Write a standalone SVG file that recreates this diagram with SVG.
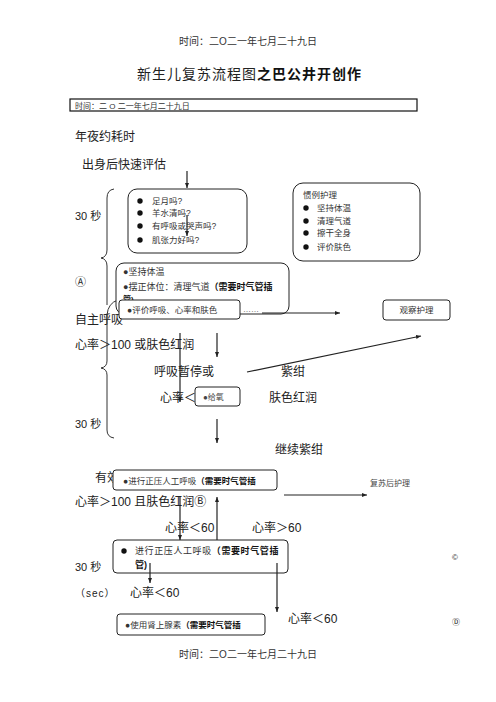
<svg xmlns="http://www.w3.org/2000/svg" width="496" height="702" viewBox="0 0 496 702">
<style>
text{font-family:"Liberation Sans","Noto Sans CJK SC",sans-serif;fill:#222}
.hd{font-size:10px;fill:#333}
.lb{font-size:12px}
.bx{font-size:8.5px;fill:#333}
.sm{font-size:8px;fill:#444}
.b{font-weight:bold;fill:#111}
.box{fill:#fff;stroke:#222;stroke-width:1}
.ln{fill:none;stroke:#222;stroke-width:1.2}
.br{fill:none;stroke:#333;stroke-width:1}
</style>
<defs>
<marker id="ah" viewBox="0 0 10 10" refX="10" refY="5" markerWidth="5" markerHeight="5" orient="auto" markerUnits="userSpaceOnUse">
<path d="M0,1 L10,5 L0,9 Z" fill="#222"/>
</marker>
</defs>
<rect width="496" height="702" fill="#fff"/>

<g id="header">
<text class="hd" x="248" y="45" text-anchor="middle">时间：二O二一年七月二十九日</text>
<text x="137" y="79" style="font-size:14px;letter-spacing:1px">新生儿复苏流程图<tspan class="b">之巴公井开创作</tspan></text>
<rect x="70" y="99" width="347" height="12" fill="none" stroke="#111" stroke-width="1.2"/>
<text x="75" y="108.5" style="font-size:8px;fill:#333">时间：二 O 二一年七月二十九日</text>
</g>

<g id="labels">
<text class="lb" x="75" y="141">年夜约耗时</text>
<text class="lb" x="82" y="169">出身后快速评估</text>
<text class="lb" x="75" y="220" style="font-size:11px">30 秒</text>
<text class="lb" x="75" y="286" style="font-size:11px">Ⓐ</text>
<text class="lb" x="75" y="324">自主呼吸</text>
<text class="lb" x="75" y="349">心率＞100 或肤色红润</text>
<text class="lb" x="154" y="376">呼吸暂停或</text>
<text class="lb" x="281" y="376">紫绀</text>
<text class="lb" x="160" y="402">心率＜</text>
<text class="lb" x="269" y="402">肤色红润</text>
<text class="lb" x="75" y="428" style="font-size:11px">30 秒</text>
<text class="lb" x="275" y="454">继续紫绀</text>
<text class="lb" x="95" y="482">有效</text>
<text class="sm" x="370" y="486">复苏后护理</text>
<text class="lb" x="75" y="506">心率＞100 且肤色红润Ⓑ</text>
<text class="lb" x="165" y="532">心率＜60</text>
<text class="lb" x="252" y="532">心率＞60</text>
<text class="lb" x="75" y="571" style="font-size:11px">30 秒</text>
<text x="452" y="560" style="font-size:8px">©</text>
<text x="75" y="597" style="font-size:10px;letter-spacing:1px">（sec）</text>
<text class="lb" x="130" y="597">心率＜60</text>
<text class="lb" x="288" y="623">心率＜60</text>
<text x="452" y="625" style="font-size:8px">Ⓓ</text>
</g>

<g id="braces">
<path class="br" d="M114,189 Q107,190 107,198 L107,250 Q107,257 101,258 Q107,259 107,266 L107,305"/>
<path class="br" d="M118,300 Q108,303 107,315 L107,361 Q107,367 101,368 Q107,369 107,375 L107,430 Q107,437 114,438"/>
</g>

<g id="node-assess">
<rect class="box" x="128" y="189" width="119" height="64" rx="9"/>
<circle cx="140" cy="201" r="2.7" fill="#111"/>
<circle cx="140" cy="213" r="2.7" fill="#111"/>
<circle cx="140" cy="226" r="2.7" fill="#111"/>
<circle cx="140" cy="240" r="2.7" fill="#111"/>
<text class="bx" x="152" y="204">足月吗?</text>
<text class="bx" x="152" y="216">羊水清吗?</text>
<text class="bx" x="152" y="229">有呼吸或哭声吗?</text>
<text class="bx" x="152" y="243">肌张力好吗?</text>
</g>

<g id="node-routine">
<rect class="box" x="293" y="183" width="127" height="78" rx="10"/>
<text class="bx" x="303" y="198">惯例护理</text>
<circle cx="306" cy="208" r="2.7" fill="#111"/>
<circle cx="306" cy="221" r="2.7" fill="#111"/>
<circle cx="306" cy="233" r="2.7" fill="#111"/>
<circle cx="306" cy="247" r="2.7" fill="#111"/>
<text class="bx" x="317" y="211">坚持体温</text>
<text class="bx" x="317" y="224">清理气道</text>
<text class="bx" x="317" y="236">擦干全身</text>
<text class="bx" x="317" y="250">评价肤色</text>
</g>

<g id="node-initial">
<rect class="box" x="116" y="263" width="173" height="51" rx="8"/>
<text class="bx" x="123" y="275" style="font-size:9px">●坚持体温</text>
<text class="bx" x="123" y="290" style="font-size:9px">●摆正体位：清理气道<tspan class="b">（需要时气管插</tspan></text>
<text class="bx b" x="123" y="302" style="font-size:8px">管)</text>
</g>

<g id="node-evaluate">
<rect class="box" x="119" y="300" width="121" height="19" rx="3"/>
<text class="bx" x="127" y="313">●评价呼吸、心率和肤色</text>
<text class="sm" x="243" y="312">……</text>
</g>

<g id="node-observe">
<rect class="box" x="383" y="300" width="67" height="20" rx="3"/>
<text class="bx" x="416.5" y="313" text-anchor="middle">观察护理</text>
</g>

<g id="node-oxygen">
<rect class="box" x="195" y="387" width="45" height="19" rx="3"/>
<text class="sm" x="203" y="400">●给氧</text>
</g>

<g id="node-ppv1">
<rect class="box" x="113" y="470" width="164" height="20" rx="3"/>
<text class="bx" x="123" y="484">●进行正压人工呼吸<tspan class="b">（需要时气管插</tspan></text>
</g>

<g id="node-ppv2">
<rect class="box" x="113" y="540" width="175" height="33" rx="4"/>
<circle cx="124" cy="551" r="2.7" fill="#111"/>
<text class="bx" x="135" y="554" style="font-size:9px;letter-spacing:0.6px">进行正压人工呼吸<tspan class="b">（需要时气管插</tspan></text>
<text class="bx b" x="135" y="568" style="font-size:9px">管)</text>
</g>

<g id="node-epinephrine">
<rect class="box" x="117" y="614" width="148" height="21" rx="3"/>
<text class="bx" x="125" y="628">●使用肾上腺素<tspan class="b">（需要时气管插</tspan></text>
</g>

<g id="footer">
<text class="hd" x="248" y="658" text-anchor="middle">时间：二O二一年七月二十九日</text>
</g>

<g id="connectors">
<line class="ln" x1="187" y1="171" x2="187" y2="188" marker-end="url(#ah)"/>
<line class="ln" x1="187" y1="215" x2="187" y2="236" marker-end="url(#ah)"/>
<line class="ln" x1="262" y1="313" x2="340" y2="313" marker-end="url(#ah)"/>
<line class="ln" x1="180" y1="333" x2="180" y2="402" marker-end="url(#ah)"/>
<line class="ln" x1="217" y1="333" x2="217" y2="357" marker-end="url(#ah)"/>
<line class="ln" x1="247" y1="372" x2="421" y2="336" marker-end="url(#ah)"/>
<line class="ln" x1="217" y1="419" x2="217" y2="443" marker-end="url(#ah)"/>
<line class="ln" x1="284" y1="495" x2="367" y2="495" marker-end="url(#ah)"/>
<line class="ln" x1="180" y1="497" x2="180" y2="540" marker-end="url(#ah)"/>
<line class="ln" x1="217" y1="540" x2="217" y2="497" marker-end="url(#ah)"/>
<line class="ln" x1="150" y1="563" x2="150" y2="583" marker-end="url(#ah)"/>
<line class="ln" x1="277" y1="563" x2="277" y2="612" marker-end="url(#ah)"/>
</g>
</svg>
